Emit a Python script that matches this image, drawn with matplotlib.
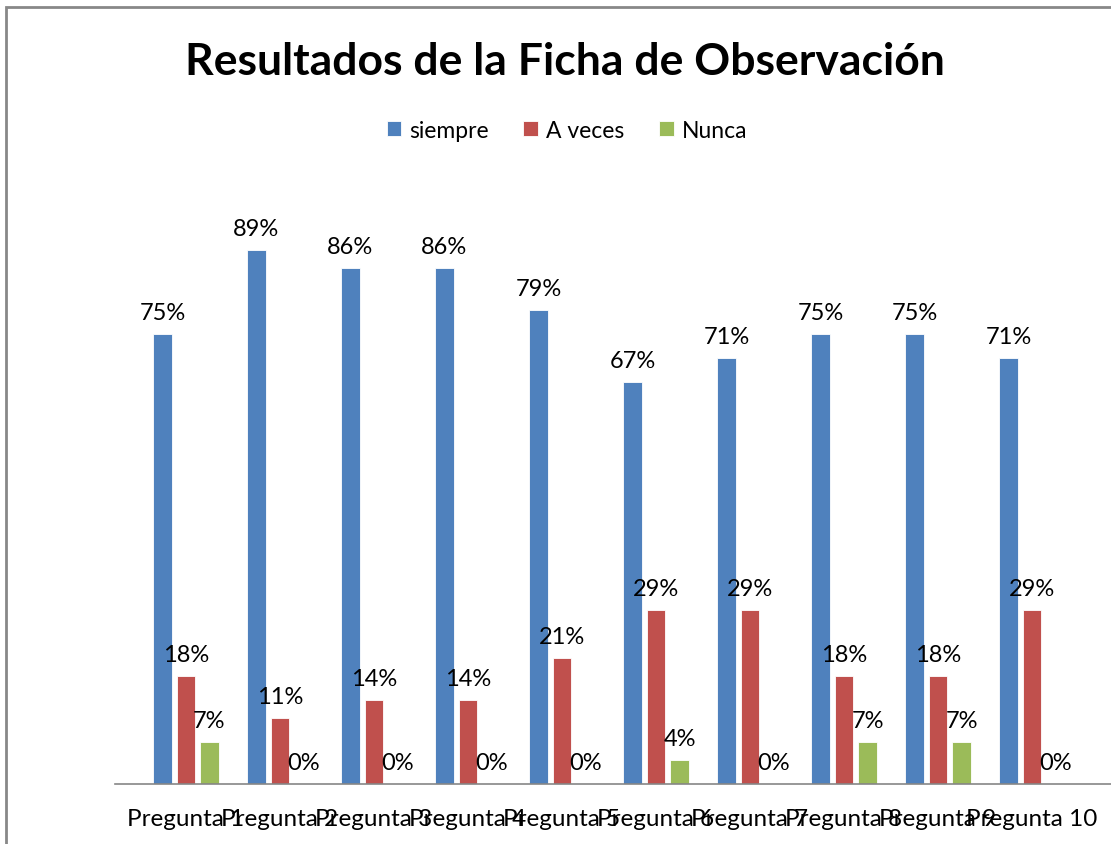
import numpy as np
import matplotlib.pyplot as plt
from matplotlib.patches import Rectangle

plt.rcParams['font.family'] = ['Lato', 'DejaVu Sans']

categorias = ['Pregunta 1', 'Pregunta 2', 'Pregunta 3', 'Pregunta 4', 'Pregunta 5',
              'Pregunta 6', 'Pregunta 7', 'Pregunta 8', 'Pregunta 9', 'Pregunta 10']
siempre = [0.75, 0.89, 0.86, 0.86, 0.79, 0.67, 0.71, 0.75, 0.75, 0.71]
a_veces = [0.18, 0.11, 0.14, 0.14, 0.21, 0.29, 0.29, 0.18, 0.18, 0.29]
nunca = [0.07, 0.00, 0.00, 0.00, 0.00, 0.04, 0.00, 0.07, 0.07, 0.00]

series = [('siempre', siempre, '#4F81BD'),
          ('A veces', a_veces, '#C0504D'),
          ('Nunca', nunca, '#9BBB59')]

W, H = 1111, 845
fig = plt.figure(figsize=(W / 100, H / 100), dpi=100)
ax = fig.add_axes([115 / W, 60 / H, (W - 115) / W, 600 / H])

x = np.arange(len(categorias))
ancho = 0.2
for i, (nombre, vals, color) in enumerate(series):
    pos = x + (i - 1) * 0.25
    ax.bar(pos, vals, width=ancho, color=color, label=nombre,
           edgecolor='white', linewidth=0.6)
    for p, v in zip(pos, vals):
        ax.annotate(f'{v:.0%}', (p, v), xytext=(0, 8), textcoords='offset points',
                    ha='center', va='bottom', fontsize=17)

ax.set_xlim(-0.755, 9.84)
ax.set_ylim(0, 1.0)
for lado in ['left', 'right', 'top']:
    ax.spines[lado].set_visible(False)
ax.spines['bottom'].set_color('#868686')
ax.spines['bottom'].set_linewidth(1.2)
ax.set_yticks([])
ax.set_xticks(x)
ax.set_xticklabels(categorias, fontsize=17.5)
ax.tick_params(axis='x', length=0, pad=17)

fig.text(565 / W, 1 - 62 / H, 'Resultados de la Ficha de Observación',
         ha='center', va='center', fontsize=32, fontweight='bold')

fig.legend(loc='center', bbox_to_anchor=(567 / W, 1 - 131 / H), ncol=3,
           frameon=False, fontsize=16.5, handlelength=0.65, handleheight=0.65,
           handletextpad=0.35, columnspacing=1.5)

fig.patches.append(Rectangle((6 / W, -0.1), 1.2, 1 - 8 / H + 0.1,
                             transform=fig.transFigure, fill=False,
                             edgecolor='#888888', linewidth=2))

fig.savefig('out.png', dpi=100)
